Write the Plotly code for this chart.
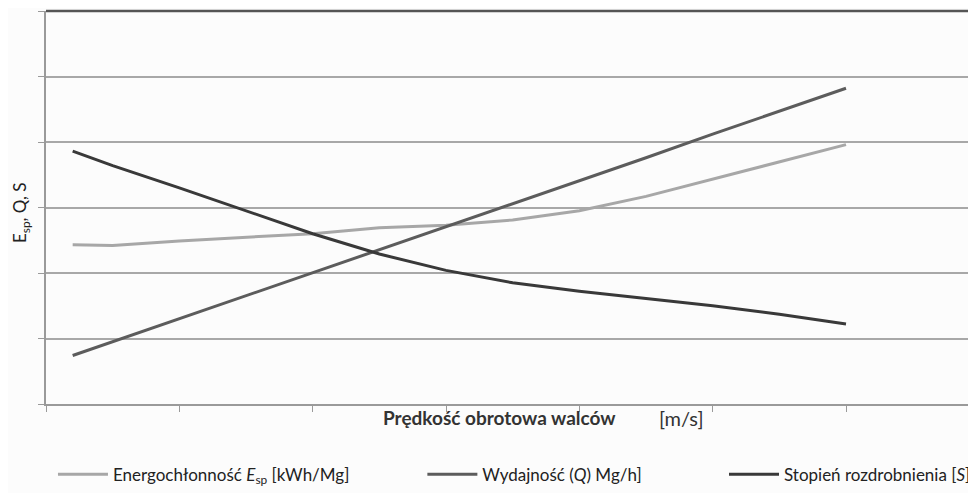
import plotly.graph_objects as go

# roll speed (relative units, ticks without labels)
speed = [0.2, 0.5, 1.0, 1.5, 2.0, 2.5, 3.0, 3.5, 4.0, 4.5, 5.0, 5.5, 6.0]

# energy consumption E_sp
energy = [2.43, 2.42, 2.49, 2.55, 2.60, 2.69, 2.73, 2.81, 2.95, 3.17, 3.43, 3.69, 3.96]
# throughput Q
throughput = [0.74, 0.95, 1.30, 1.65, 2.01, 2.36, 2.71, 3.06, 3.41, 3.76, 4.12, 4.47, 4.82]
# size reduction ratio S
reduction = [3.86, 3.64, 3.30, 2.95, 2.60, 2.29, 2.04, 1.85, 1.72, 1.61, 1.50, 1.37, 1.22]

FONT = "Lato"

fig = go.Figure()

fig.add_trace(go.Scatter(
    x=speed, y=energy, mode="lines",
    name="Energochłonność <i>E</i><sub>sp</sub> [kWh/Mg]",
    line=dict(color="#a7a7a7", width=3),
    legend="legend",
))
fig.add_trace(go.Scatter(
    x=speed, y=throughput, mode="lines",
    name="Wydajność (<i>Q</i>) Mg/h]",
    line=dict(color="#5c5c5c", width=3),
    legend="legend2",
))
fig.add_trace(go.Scatter(
    x=speed, y=reduction, mode="lines",
    name="Stopień rozdrobnienia [<i>S</i>]",
    line=dict(color="#393939", width=3),
    legend="legend3",
))

legend_style = dict(
    orientation="h", xanchor="left", yanchor="middle", y=-0.18,
    font=dict(family=FONT, size=17, color="#222222"),
    bgcolor="rgba(0,0,0,0)", itemwidth=50,
)

# the page body adds 8px around, so the figure is kept smaller to avoid scrollbars
fig.update_layout(
    width=968, height=485,
    margin=dict(l=38, r=0, t=3, b=87),
    paper_bgcolor="#fcfcfc",
    plot_bgcolor="#fcfcfc",
    showlegend=True,
    legend=dict(x=(53 - 46) / 930, **legend_style),
    legend2=dict(x=(424 - 46) / 930, **legend_style),
    legend3=dict(x=(727 - 46) / 930, **legend_style),
    xaxis=dict(
        range=[0, 6.945], tickvals=[0, 1, 2, 3, 4, 5, 6],
        showticklabels=False, ticks="outside", ticklen=6, tickcolor="#9a9a9a",
        showgrid=False, zeroline=False,
        showline=True, linecolor="#9a9a9a", linewidth=2,
    ),
    yaxis=dict(
        range=[0, 6], tickvals=[0, 1, 2, 3, 4, 5, 6],
        showticklabels=False, ticks="outside", ticklen=6, tickcolor="#9a9a9a",
        showgrid=True, gridcolor="#a8a8a8", gridwidth=2, zeroline=False,
        showline=True, linecolor="#9a9a9a", linewidth=2,
    ),
)

# darker top border of the plot area
fig.add_shape(type="line", xref="paper", yref="paper", x0=0, x1=1, y0=1, y1=1,
              line=dict(color="#555555", width=2.5))

# axis titles
fig.add_annotation(
    text="E<sub>sp</sub>, Q, S", textangle=-90,
    xref="paper", yref="paper", x=(21 - 46) / 930, y=(406 - 214) / 395,
    xanchor="center", yanchor="middle", showarrow=False,
    font=dict(family=FONT, size=17, color="#222222"),
)
fig.add_annotation(
    text="<b>Prędkość obrotowa walców</b>",
    xref="paper", yref="paper", x=(501 - 46) / 930, y=(406 - 420) / 395,
    xanchor="center", yanchor="middle", showarrow=False,
    font=dict(family=FONT, size=19, color="#333333"),
)
fig.add_annotation(
    text="[m/s]",
    xref="paper", yref="paper", x=(660 - 46) / 930, y=(406 - 420) / 395,
    xanchor="left", yanchor="middle", showarrow=False,
    font=dict(family=FONT, size=20, color="#333333"),
)

fig.write_html("out.html")
